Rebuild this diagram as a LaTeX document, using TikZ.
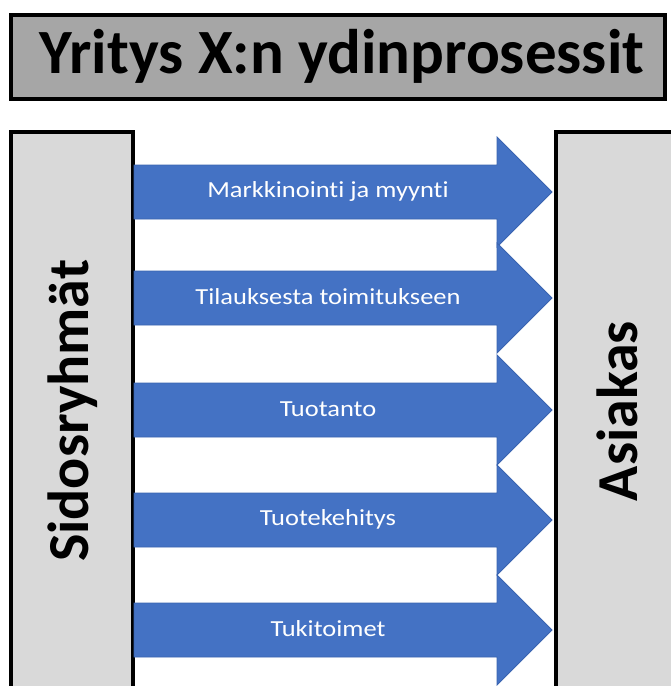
\documentclass[tikz,border=0pt]{standalone}
\usepackage{fontspec}
\usepackage{graphicx}
\setmainfont{Carlito}[Ligatures={NoCommon}]
\definecolor{titlegray}{HTML}{A6A6A6}
\definecolor{sidegray}{HTML}{D9D9D9}
\definecolor{arrowblue}{HTML}{4472C4}
\definecolor{arrowedge}{HTML}{3A64B0}
\begin{document}
\begin{tikzpicture}[x=1pt,y=-1pt,
  sidebox/.style={fill=sidegray,draw=black,line width=3.5pt},
  procarrow/.style={fill=arrowblue,draw=arrowedge,line width=0.8pt},
  proclabel/.style={text=white,font=\fontsize{23}{26}\selectfont},
  sidelabel/.style={font=\bfseries\fontsize{58}{64}\selectfont,rotate=90}]
\useasboundingbox (0,0) rectangle (671,686);
\clip (0,0) rectangle (671,686);
% title
\node[draw=black,line width=3.5pt,fill=titlegray,minimum width=654pt,minimum height=84pt,anchor=north west,inner sep=0pt] (title) at (9,13) {};
\node[font=\bfseries\fontsize{63}{68}\selectfont] (titletext) at (342,56) {Yritys X:n ydinprosessit};
% side boxes
\path[sidebox] (11,132) rectangle (133,700);
\path[sidebox] (556,132) rectangle (690,700);
\node[sidelabel] (sidos) at (73,411) {Sidosryhmät};
\node[sidelabel] (asiakas) at (617,411) {Asiakas};
% arrows
\foreach \cy/\lab/\nm in {192/Markkinointi ja myynti/a1, 298/Tilauksesta toimitukseen/a2, 410/Tuotanto/a3, 520/Tuotekehitys/a4, 630/Tukitoimet/a5}{
  \path[procarrow] (134,\cy-27) -- (497,\cy-27) -- (497,\cy-55) -- (552,\cy) -- (497,\cy+55) -- (497,\cy+27) -- (134,\cy+27) -- cycle;
  \node[proclabel] (\nm) at (328,\cy-1) {\scalebox{1.15}[1]{\lab}};
}
\end{tikzpicture}
\end{document}
